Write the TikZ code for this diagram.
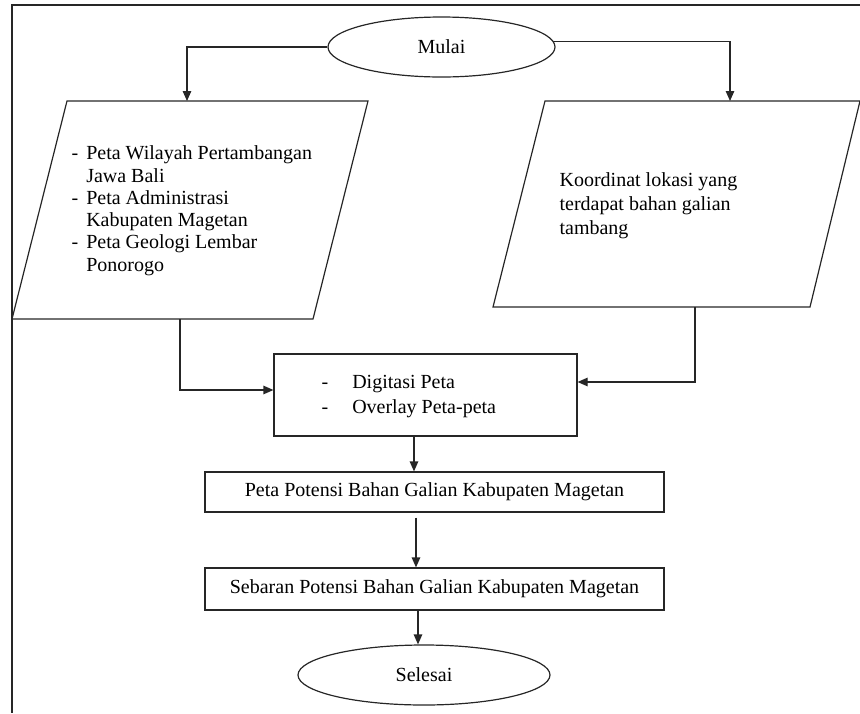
\documentclass[tikz,border=0pt]{standalone}
\usepackage{fontspec}
\setmainfont{Liberation Serif}
\usetikzlibrary{arrows.meta,shapes.geometric,calc}
\begin{document}
\begin{tikzpicture}[x=1pt,y=-1pt,
  line width=1.2pt,
  lines/.style={draw=black!85, line width=1.2pt},
  arr/.style={lines,-{Triangle[length=10pt,width=8.5pt]}},
  term/.style={draw=black!85, line width=1.2pt, ellipse, inner sep=0pt},
  box/.style={draw=black!85, line width=1.2pt, rectangle, inner sep=0pt},
  txt/.style={font=\fontsize{20}{22.3}\selectfont, inner sep=0pt, align=left}
]
\useasboundingbox (0,0) rectangle (860,713);
% frame
\draw[lines] (860,5) -- (12,5) -- (12,713);

% start
\node[term, minimum width=227pt, minimum height=60pt, font=\fontsize{20}{22}\selectfont] (mulai) at (441.5,47) {Mulai};

% left input parallelogram
\coordinate (ltl) at (67,101);
\coordinate (ltr) at (368,101);
\coordinate (lbr) at (313,319);
\coordinate (lbl) at (12,319);
\draw[lines] (ltl) -- (ltr) -- (lbr) -- (lbl) -- cycle;
\coordinate (ltop) at (187,101);
\coordinate (lbot) at (180,319);
\node[txt, anchor=west] (ltext) at (71,211) {%
  \begin{tabular}{@{}l@{\hspace{8pt}}l@{}}
  - & Peta Wilayah Pertambangan\\
    & Jawa Bali\\
  - & Peta Administrasi\\
    & Kabupaten Magetan\\
  - & Peta Geologi Lembar\\
    & Ponorogo
  \end{tabular}};

% right input parallelogram
\coordinate (rtl) at (545,101);
\coordinate (rtr) at (860,101);
\coordinate (rbr) at (810,307);
\coordinate (rbl) at (493,307);
\draw[lines] (rtl) -- (rtr) -- (rbr) -- (rbl) -- cycle;
\coordinate (rtop) at (730,101);
\coordinate (rbot) at (695,307);
\node[txt, anchor=west, font=\fontsize{20}{24}\selectfont] (rtext) at (559,206)
  {Koordinat lokasi yang\\terdapat bahan galian\\tambang};

% process box
\node[box, minimum width=303pt, minimum height=82pt] (mid) at (425.5,395) {};
\node[txt, anchor=west, font=\fontsize{20}{25}\selectfont] (midtext) at (321,395.5) {%
  \begin{tabular}{@{}l@{\hspace{24pt}}l@{}}
  - & Digitasi Peta\\
  - & Overlay Peta-peta
  \end{tabular}};

% output boxes
\node[box, minimum width=459pt, minimum height=40pt, font=\fontsize{20}{22}\selectfont] (peta) at (434.5,492) {Peta Potensi Bahan Galian Kabupaten Magetan};
\node[box, minimum width=459pt, minimum height=42pt, font=\fontsize{20}{22}\selectfont] (sebaran) at (434.5,589) {Sebaran Potensi Bahan Galian Kabupaten Magetan};

% end
\node[term, minimum width=252pt, minimum height=60pt, font=\fontsize{20}{22}\selectfont] (selesai) at (424,675) {Selesai};

% connectors
\draw[arr] (mulai.west) -| (ltop);
\draw[arr] (mulai.3) -| (rtop);
\draw[arr] (lbot) |- ($(mid.west)+(0,-5)$);
\draw[arr] (rbot) |- ($(mid.east)+(0,-13)$);
\coordinate (m1) at ($(mid.south)+(-11.5,0)$);
\draw[arr] (m1) -- (m1 |- peta.north);
\coordinate (p1) at ($(peta.south)+(-18.5,5)$);
\draw[arr] (p1) -- (p1 |- sebaran.north);
\coordinate (s1) at ($(sebaran.south)+(-16.5,0)$);
\draw[arr] (s1) -- (s1 |- selesai.north);
\end{tikzpicture}
\end{document}
